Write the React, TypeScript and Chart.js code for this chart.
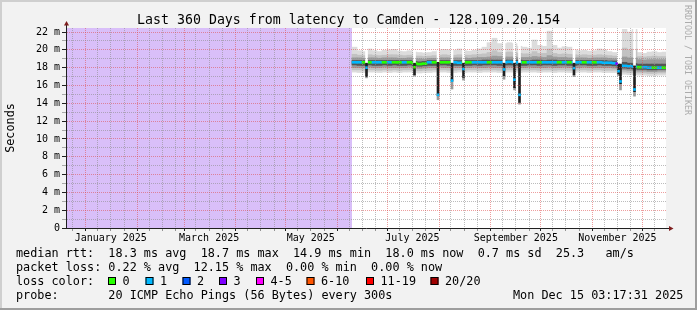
import { useEffect, useRef } from 'react';
import { Chart, registerables } from 'chart.js';

Chart.register(...registerables);

// ---------- canvas / axes ----------
const W = 697;
const H = 310;
// x axis: days since 2025-01-01 00:00 (360 days ending Mon Dec 15 03:17:31 2025)
const X_MIN = -11.863;
const X_MAX = 348.137;
const Y_MAX = 22.45; // ms
const DATA_START = 159.74; // first measured sample (before: unknown)
const STEP = 3; // days per smoke column

const TITLE = 'Last 360 Days from latency to Camden - 128.109.20.154';
const Y_TITLE = 'Seconds';
const WATERMARK = 'RRDTOOL / TOBI OETIKER';

// ---------- series: median rtt (ms) and loss count per column ----------
const medianMs = [
  18.6, 18.6, 18.6, 18.6, 18.6, 18.6, 18.6, 18.6, 18.6, 18.6,
  18.6, 18.6, 18.5, 18.4, 18.45, 18.6, 18.6, 18.6, 18.6, 18.6,
  18.6, 18.55, 18.6, 18.6, 18.6, 18.6, 18.6, 18.6, 18.6, 18.6,
  18.6, 18.65, 18.6, 18.6, 18.6, 18.6, 18.6, 18.6, 18.6, 18.6,
  18.6, 18.6, 18.6, 18.6, 18.6, 18.6, 18.6, 18.6, 18.6, 18.6,
  18.55, 18.55, 18.5, 18.3, 18.2, 18.15, 18.1, 18.05, 18.05, 18.0,
  18.0, 18.0, 18.0,
];
const lossCount = [
  1, 1, 0, 0, 1, 1, 0, 1, 0, 0,
  1, 0, 0, 0, 0, 1, 0, 0, 0, 0,
  1, 1, 0, 0, 1, 1, 1, 0, 1, 1,
  1, 1, 1, 1, 0, 1, 1, 0, 1, 1,
  1, 0, 1, 0, 1, 1, 0, 1, 0, 1,
  1, 1, 1, 1, 1, 1, 1, 0, 1, 1,
  0, 1, 0,
];

// ---------- smoke (ping spread) bands, ms ----------
const smokeHi1 = [
  20.3, 19.9, 19.8, 20.1, 19.9, 19.8, 19.95, 20.0, 20.05, 19.85,
  19.8, 19.9, 19.75, 19.7, 19.65, 19.7, 19.8, 20.0, 20.05, 20.0,
  19.95, 20.1, 19.9, 19.85, 19.95, 20.1, 20.3, 20.8, 21.3, 20.7,
  20.7, 20.8, 20.7, 20.4, 20.3, 20.2, 21.1, 20.5, 20.4, 22.1,
  20.5, 20.2, 20.35, 20.3, 20.0, 19.9, 19.95, 19.85, 19.9, 20.1,
  20.0, 19.8, 19.7, 19.6, 22.3, 22.0, 22.3, 19.7, 19.6, 19.75,
  19.8, 19.7, 19.75,
];
const smokeHi2 = [
  19.5, 19.4, 19.35, 19.45, 19.4, 19.35, 19.4, 19.45, 19.45, 19.4,
  19.35, 19.4, 19.3, 19.3, 19.25, 19.3, 19.35, 19.4, 19.45, 19.4,
  19.4, 19.45, 19.4, 19.4, 19.45, 19.5, 19.55, 19.7, 19.9, 19.7,
  19.7, 19.75, 19.7, 19.6, 19.55, 19.55, 19.8, 19.6, 19.6, 20.1,
  19.6, 19.5, 19.55, 19.5, 19.45, 19.4, 19.45, 19.4, 19.4, 19.45,
  19.4, 19.35, 19.3, 19.2, 20.2, 20.0, 20.1, 19.25, 19.2, 19.25,
  19.3, 19.25, 19.25,
];
const smokeHi3 = [
  19.1, 19.1, 19.05, 19.1, 19.1, 19.05, 19.1, 19.1, 19.1, 19.05,
  19.05, 19.1, 19.0, 19.0, 18.95, 19.05, 19.05, 19.1, 19.1, 19.1,
  19.1, 19.1, 19.1, 19.05, 19.1, 19.15, 19.15, 19.2, 19.3, 19.25,
  19.2, 19.2, 19.2, 19.15, 19.15, 19.15, 19.25, 19.2, 19.15, 19.35,
  19.2, 19.15, 19.15, 19.1, 19.1, 19.1, 19.1, 19.05, 19.1, 19.1,
  19.1, 19.05, 19.0, 18.9, 19.2, 19.1, 19.1, 18.9, 18.85, 18.9,
  18.9, 18.9, 18.9,
];
const smokeHi4 = [
  18.8, 18.8, 18.8, 18.8, 18.8, 18.8, 18.8, 18.8, 18.8, 18.8,
  18.8, 18.8, 18.7, 18.65, 18.7, 18.8, 18.8, 18.8, 18.8, 18.8,
  18.8, 18.8, 18.8, 18.8, 18.8, 18.8, 18.85, 18.85, 18.85, 18.85,
  18.85, 18.85, 18.85, 18.85, 18.8, 18.8, 18.85, 18.85, 18.8, 18.85,
  18.85, 18.8, 18.8, 18.8, 18.8, 18.8, 18.8, 18.8, 18.8, 18.8,
  18.8, 18.75, 18.75, 18.6, 18.6, 18.5, 18.45, 18.4, 18.4, 18.4,
  18.4, 18.4, 18.4,
];
const smokeLo4 = [
  18.3, 18.25, 18.25, 18.3, 18.25, 18.25, 18.3, 18.25, 18.3, 18.25,
  18.25, 18.3, 18.2, 18.15, 18.2, 18.25, 18.25, 18.3, 18.3, 18.25,
  18.25, 18.25, 18.25, 18.25, 18.3, 18.25, 18.3, 18.3, 18.3, 18.25,
  18.3, 18.3, 18.3, 18.25, 18.25, 18.3, 18.3, 18.25, 18.3, 18.3,
  18.25, 18.3, 18.3, 18.25, 18.25, 18.3, 18.3, 18.25, 18.25, 18.3,
  18.25, 18.25, 18.2, 18.0, 17.95, 17.9, 17.85, 17.8, 17.8, 17.75,
  17.75, 17.8, 17.8,
];
const smokeLo3 = [
  18.0, 18.0, 18.0, 18.05, 18.0, 18.0, 18.05, 18.0, 18.0, 18.0,
  18.0, 18.05, 17.95, 17.9, 17.95, 18.0, 18.0, 18.05, 18.0, 18.0,
  18.0, 18.0, 18.0, 18.0, 18.05, 18.0, 18.0, 18.05, 18.0, 18.0,
  18.0, 18.05, 18.0, 18.0, 18.0, 18.05, 18.0, 18.0, 18.0, 18.05,
  18.0, 18.0, 18.05, 18.0, 18.0, 18.0, 18.05, 18.0, 18.0, 18.0,
  18.0, 18.0, 17.95, 17.8, 17.75, 17.7, 17.65, 17.6, 17.6, 17.55,
  17.55, 17.6, 17.6,
];
const smokeLo2 = [
  17.75, 17.75, 17.7, 17.75, 17.75, 17.7, 17.75, 17.7, 17.75, 17.7,
  17.75, 17.75, 17.7, 17.65, 17.7, 17.7, 17.75, 17.75, 17.75, 17.7,
  17.7, 17.75, 17.7, 17.75, 17.75, 17.7, 17.75, 17.75, 17.75, 17.7,
  17.75, 17.75, 17.75, 17.7, 17.75, 17.75, 17.75, 17.7, 17.75, 17.75,
  17.7, 17.75, 17.75, 17.7, 17.7, 17.75, 17.75, 17.7, 17.75, 17.75,
  17.7, 17.7, 17.7, 17.55, 17.5, 17.45, 17.45, 17.4, 17.4, 17.35,
  17.35, 17.4, 17.4,
];
const smokeLo1 = [
  17.5, 17.45, 17.45, 17.5, 17.5, 17.45, 17.5, 17.45, 17.5, 17.45,
  17.5, 17.5, 17.45, 17.4, 17.45, 17.45, 17.5, 17.5, 17.5, 17.45,
  17.45, 17.5, 17.45, 17.5, 17.5, 17.45, 17.5, 17.5, 17.5, 17.45,
  17.5, 17.5, 17.5, 17.45, 17.5, 17.5, 17.5, 17.45, 17.5, 17.5,
  17.45, 17.5, 17.5, 17.45, 17.45, 17.5, 17.5, 17.45, 17.5, 17.5,
  17.45, 17.45, 17.45, 17.3, 17.25, 17.2, 17.2, 17.15, 17.15, 17.1,
  17.1, 17.15, 17.15,
];

// ---------- short latency dips (single columns) ----------
const dipDays = [168.44, 197.24, 211.34, 219.74, 226.64, 250.94, 257.24, 260.24, 292.94, 319.64, 320.84, 329.24];
const dipTop = [18.5, 18.5, 18.6, 18.5, 18.5, 18.5, 18.5, 18.5, 18.5, 18.4, 18.4, 18.2];
const dipLow = [17.0, 17.2, 14.9, 16.5, 16.9, 17.1, 15.75, 14.1, 17.2, 17.3, 16.2, 15.3];
const dipLight = [16.85, 17.05, 14.4, 15.6, 16.6, 16.7, 15.5, 13.9, 17.0, 17.1, 15.5, 14.8];
const markDays = [168.44, 197.24, 211.34, 219.74, 226.64, 250.94, 257.24, 260.24, 292.94, 318.56, 319.64, 320.84, 329.24];
const markMs = [18.0, 18.05, 14.95, 16.55, 17.85, 17.8, 16.65, 14.95, 17.95, 18.45, 17.6, 16.45, 15.55];
const markLoss = [1, 0, 1, 1, 1, 1, 1, 1, 1, 3, 1, 1, 1];

// ---------- ticks ----------
const MONTH_STARTS = [-31, 0, 31, 59, 90, 120, 151, 181, 212, 243, 273, 304, 334];
const MINOR_OFFSETS = [7, 15, 23];
const LABEL_DAYS = [15, 74, 135, 196, 258, 319];
const LABEL_TEXT = ['January 2025', 'March 2025', 'May 2025', 'July 2025', 'September 2025', 'November 2025'];
const Y_TICKS = [0, 1, 2, 3, 4, 5, 6, 7, 8, 9, 10, 11, 12, 13, 14, 15, 16, 17, 18, 19, 20, 21, 22];

// ---------- legend ----------
const STAT_LINES = [
  'median rtt:  18.3 ms avg  18.7 ms max  14.9 ms min  18.0 ms now  0.7 ms sd  25.3   am/s',
  'packet loss: 0.22 % avg  12.15 % max  0.00 % min  0.00 % now',
];
const LOSS_LABELS = ['0', '1', '2', '3', '4-5', '6-10', '11-19', '20/20'];
const LOSS_COLORS = ['#26ff00', '#00b8ff', '#0059ff', '#7e00ff', '#ff00ff', '#ff5500', '#ff0000', '#a00000'];
const PROBE_TEXT = 'probe:       20 ICMP Echo Pings (56 Bytes) every 300s';
const DATE_TEXT = 'Mon Dec 15 03:17:31 2025';

// ---------- styles / layout ----------
const FONT = '"DejaVu Sans Mono", monospace';
const PLOT = { left: 66, right: 666, top: 28, bottom: 228 };
const PX_PER_DAY = (PLOT.right - PLOT.left) / (X_MAX - X_MIN);
const SWATCH_X = [108, 145.5, 182.5, 219, 256, 306.5, 366, 430.5];
const MGRID = 'rgba(222,79,79,0.55)';
const GRID = 'rgba(143,143,143,0.6)';
const AXIS = '#202020';
const ARROW = '#7f1f1f';
const UNKNOWN = '#d9bff9';
const MED_HALF = 0.11;

Chart.defaults.font.family = FONT;

function lossColor(n: number) {
  if (n <= 3) return LOSS_COLORS[n];
  if (n <= 5) return LOSS_COLORS[4];
  if (n <= 10) return LOSS_COLORS[5];
  if (n <= 19) return LOSS_COLORS[6];
  return LOSS_COLORS[7];
}

function buildXTicks() {
  const t: any[] = [];
  for (const m of MONTH_STARTS) {
    if (m >= X_MIN && m <= X_MAX) t.push({ value: m, kind: 'major', text: '' });
    for (const o of MINOR_OFFSETS) {
      const v = m + o;
      if (v >= X_MIN && v <= X_MAX) {
        const li = LABEL_DAYS.indexOf(v);
        t.push({ value: v, kind: 'minor', text: li >= 0 ? LABEL_TEXT[li] : '' });
      }
    }
  }
  return t.sort((a, b) => a.value - b.value);
}

const centers = medianMs.map((_, i) => DATA_START + STEP * (i + 0.5));
const band = (lo: number[], hi: number[]) => centers.map((x, i) => ({ x, y: [lo[i], hi[i]] }));

const rrdPlugin = {
  id: 'rrdFrame',
  beforeDraw(chart: any) {
    const { ctx, width, height, chartArea: a } = chart;
    ctx.save();
    ctx.fillStyle = '#f2f2f2';
    ctx.fillRect(0, 0, width, height);
    ctx.fillStyle = '#cfcfcf';
    ctx.fillRect(0, 0, width, 2);
    ctx.fillRect(0, 0, 2, height);
    ctx.fillStyle = '#9e9e9e';
    ctx.fillRect(0, height - 2, width, 2);
    ctx.fillRect(width - 2, 0, 2, height);
    ctx.fillStyle = '#ffffff';
    ctx.fillRect(a.left, a.top, a.right - a.left, a.bottom - a.top);
    ctx.restore();
  },
  afterDraw(chart: any) {
    const { ctx, width, chartArea: a } = chart;
    ctx.save();
    // axis extensions + arrows
    ctx.strokeStyle = AXIS;
    ctx.lineWidth = 1;
    ctx.beginPath();
    ctx.moveTo(a.left + 0.5, a.top + 1);
    ctx.lineTo(a.left + 0.5, a.top - 3);
    ctx.moveTo(a.right - 1, a.bottom + 0.5);
    ctx.lineTo(a.right + 3, a.bottom + 0.5);
    ctx.stroke();
    ctx.fillStyle = ARROW;
    ctx.beginPath();
    ctx.moveTo(a.left - 2, a.top - 2.5);
    ctx.lineTo(a.left + 3, a.top - 2.5);
    ctx.lineTo(a.left + 0.5, a.top - 7);
    ctx.closePath();
    ctx.fill();
    ctx.beginPath();
    ctx.moveTo(a.right + 3, a.bottom - 2);
    ctx.lineTo(a.right + 3, a.bottom + 3);
    ctx.lineTo(a.right + 7.5, a.bottom + 0.5);
    ctx.closePath();
    ctx.fill();

    // title
    ctx.fillStyle = '#000';
    ctx.textBaseline = 'alphabetic';
    ctx.textAlign = 'center';
    ctx.font = `13.25px ${FONT}`;
    ctx.fillText(TITLE, width / 2, 24);

    // vertical axis title
    ctx.save();
    ctx.font = `11.8px ${FONT}`;
    ctx.translate(13.5, (a.top + a.bottom) / 2);
    ctx.rotate(-Math.PI / 2);
    ctx.textAlign = 'center';
    ctx.fillText(Y_TITLE, 0, 0);
    ctx.restore();

    // watermark
    ctx.save();
    ctx.font = `8.3px ${FONT}`;
    ctx.fillStyle = '#ababab';
    ctx.translate(685, 5);
    ctx.rotate(Math.PI / 2);
    ctx.textAlign = 'left';
    ctx.fillText(WATERMARK, 0, 0);
    ctx.restore();

    // legend
    ctx.font = `11.8px ${FONT}`;
    ctx.textAlign = 'left';
    ctx.fillStyle = '#000';
    const base = 257.3;
    ctx.fillText(STAT_LINES[0], 16, base);
    ctx.fillText(STAT_LINES[1], 16, base + 14);
    ctx.fillText('loss color:', 16, base + 28);
    LOSS_LABELS.forEach((lab, i) => {
      const x = SWATCH_X[i];
      ctx.fillStyle = LOSS_COLORS[i];
      ctx.fillRect(x, 277, 8, 8);
      ctx.strokeStyle = '#000';
      ctx.lineWidth = 1;
      ctx.strokeRect(x + 0.5, 277.5, 7, 7);
      ctx.fillStyle = '#000';
      ctx.fillText(lab, x + 14.5, base + 28);
    });
    ctx.fillText(PROBE_TEXT, 16, base + 42);
    ctx.fillText(DATE_TEXT, 513, base + 42);
    ctx.restore();
  },
};

function makeConfig(): any {
  const smokeW = STEP * PX_PER_DAY;
  const barCommon = { type: 'bar', borderWidth: 0, clip: 0, borderSkipped: false };
  return {
    type: 'bar',
    data: {
      datasets: [
        {
          type: 'line',
          data: [{ x: X_MIN, y: Y_MAX }, { x: DATA_START, y: Y_MAX }],
          fill: 'origin',
          backgroundColor: UNKNOWN,
          borderWidth: 0,
          pointRadius: 0,
          clip: 0,
          order: 100,
        },
        { ...barCommon, data: band(smokeLo1, smokeHi1), backgroundColor: '#dcdcdc', barThickness: smokeW, order: 90 },
        { ...barCommon, data: band(smokeLo2, smokeHi2), backgroundColor: '#c2c2c2', barThickness: smokeW, order: 80 },
        { ...barCommon, data: band(smokeLo3, smokeHi3), backgroundColor: '#9c9c9c', barThickness: smokeW, order: 70 },
        { ...barCommon, data: band(smokeLo4, smokeHi4), backgroundColor: '#555555', barThickness: smokeW, order: 60 },
        {
          ...barCommon,
          data: centers.map((x, i) => ({ x, y: [medianMs[i] - MED_HALF, medianMs[i] + MED_HALF] })),
          backgroundColor: lossCount.map(lossColor),
          barThickness: smokeW,
          order: 50,
        },
        { ...barCommon, data: dipDays.map((x, i) => ({ x, y: [dipTop[i], Y_MAX] })), backgroundColor: '#ffffff', barThickness: 2, order: 40 },
        { ...barCommon, data: dipDays.map((x, i) => ({ x, y: [dipLight[i], dipLow[i]] })), backgroundColor: '#9a9a9a', barThickness: 2, order: 30 },
        { ...barCommon, data: dipDays.map((x, i) => ({ x, y: [dipLow[i], dipTop[i]] })), backgroundColor: '#202020', barThickness: 2, order: 20 },
        {
          ...barCommon,
          data: markDays.map((x, i) => ({ x, y: [markMs[i] - MED_HALF, markMs[i] + MED_HALF] })),
          backgroundColor: markLoss.map(lossColor),
          barThickness: 2,
          order: 10,
        },
      ],
    },
    options: {
      animation: false,
      responsive: false,
      devicePixelRatio: 1,
      events: [],
      layout: { padding: { left: 0, top: PLOT.top, right: W - PLOT.right, bottom: H - PLOT.bottom - 20 } },
      plugins: { legend: { display: false }, tooltip: { enabled: false }, title: { display: false } },
      scales: {
        x: {
          type: 'linear',
          min: X_MIN,
          max: X_MAX,
          bounds: 'data',
          offset: false,
          stacked: true,
          afterBuildTicks: (scale: any) => {
            scale.ticks = buildXTicks();
          },
          afterFit: (scale: any) => {
            scale.height = 20;
          },
          ticks: {
            autoSkip: false,
            maxRotation: 0,
            minRotation: 0,
            padding: 1,
            color: '#000',
            font: { family: FONT, size: 10 },
            callback: (_v: any, i: number, ticks: any[]) => ticks[i].text,
          },
          grid: {
            z: 1,
            offset: false,
            lineWidth: 1,
            tickLength: 3,
            color: (c: any) => (c.tick && c.tick.kind === 'major' ? MGRID : GRID),
            tickColor: (c: any) => (c.tick && c.tick.kind === 'major' ? AXIS : 'rgba(32,32,32,0.45)'),
          },
          border: { display: true, color: AXIS, width: 1, dash: [1, 1], z: 2 },
        },
        y: {
          type: 'linear',
          min: 0,
          max: Y_MAX,
          bounds: 'data',
          stacked: false,
          afterBuildTicks: (scale: any) => {
            scale.ticks = Y_TICKS.map((v) => ({ value: v }));
          },
          afterFit: (scale: any) => {
            scale.width = PLOT.left;
          },
          ticks: {
            autoSkip: false,
            padding: 2,
            color: '#000',
            font: { family: FONT, size: 10 },
            callback: (v: number) => (v % 2 === 0 ? (v === 0 ? '0' : `${v} m`) : ''),
          },
          grid: {
            z: 1,
            lineWidth: 1,
            tickLength: 4,
            color: (c: any) => (c.tick && c.tick.value % 2 === 0 ? MGRID : GRID),
            tickColor: (c: any) => (c.tick && c.tick.value % 2 === 0 ? AXIS : 'rgba(32,32,32,0.35)'),
          },
          border: { display: true, color: AXIS, width: 1, dash: [1, 1], z: 2 },
        },
      },
    },
    plugins: [rrdPlugin],
  };
}

export default function App() {
  const ref = useRef<HTMLCanvasElement>(null);
  useEffect(() => {
    const canvas = ref.current;
    if (!canvas) return;
    const chart = new Chart(canvas, makeConfig());
    return () => chart.destroy();
  }, []);
  return (
    <div style={{ position: 'fixed', left: 0, top: 0, width: W, height: H }}>
      <canvas ref={ref} width={W} height={H} style={{ display: 'block', width: W, height: H }} />
    </div>
  );
}
